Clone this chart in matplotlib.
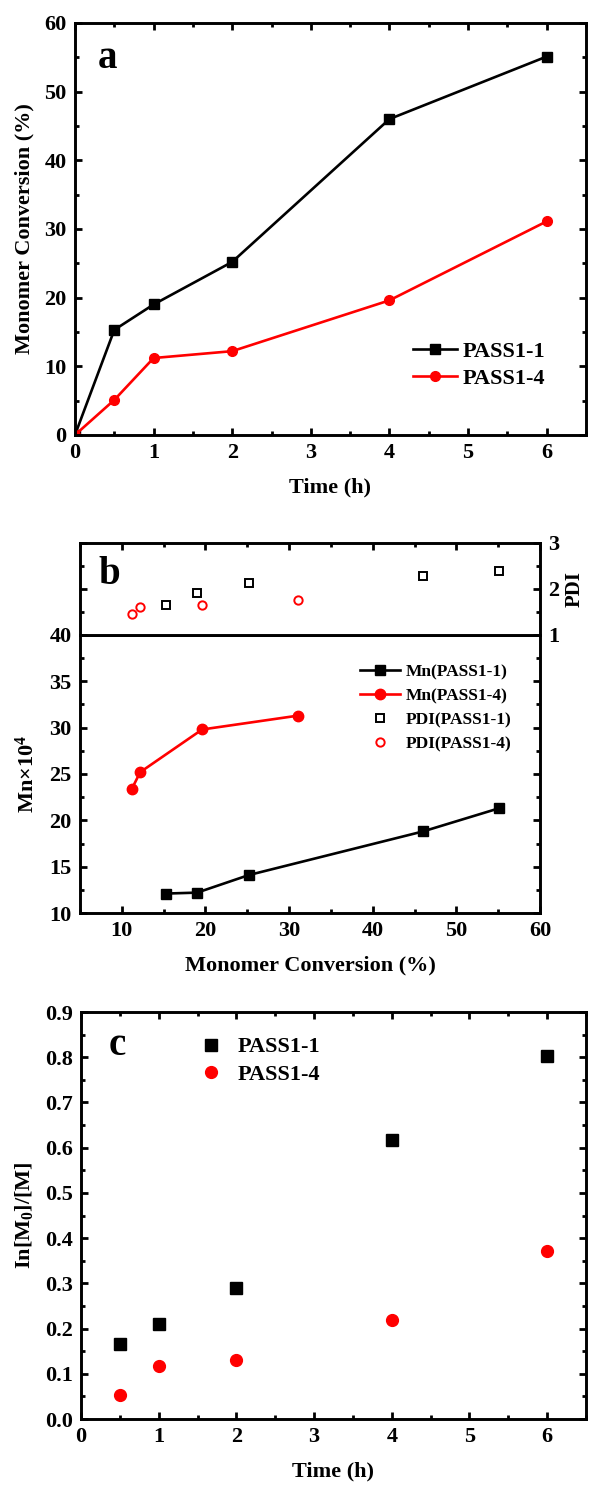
import matplotlib
matplotlib.use("Agg")
import matplotlib.pyplot as plt
from matplotlib.ticker import MultipleLocator, FormatStrFormatter
from matplotlib.lines import Line2D

plt.rcParams['font.family'] = ['Liberation Serif', 'DejaVu Serif']
plt.rcParams['font.weight'] = 'bold'
plt.rcParams['axes.labelweight'] = 'bold'
plt.rcParams['mathtext.fontset'] = 'custom'
plt.rcParams['mathtext.rm'] = 'Liberation Serif:bold'
plt.rcParams['mathtext.default'] = 'rm'
plt.rcParams['axes.linewidth'] = 2.1

# conversion vs time
time_h = [0, 0.5, 1, 2, 4, 6]
conv_p11 = [0, 15.3, 19.0, 25.2, 46.0, 55.1]
conv_p14 = [0, 5.1, 11.2, 12.2, 19.6, 31.1]

# Mn and PDI vs conversion
mn_conv_p11 = [15.3, 19.0, 25.2, 46.0, 55.1]
mn_p11 = [12.1, 12.2, 14.1, 18.8, 21.3]
pdi_p11 = [1.66, 1.92, 2.13, 2.28, 2.39]
mn_conv_p14 = [11.2, 12.2, 19.6, 31.1]
mn_p14 = [23.4, 25.2, 29.8, 31.3]
pdi_p14 = [1.46, 1.61, 1.66, 1.75]

# first order kinetics
kin_time = [0.5, 1, 2, 4, 6]
lnm_p11 = [0.165, 0.21, 0.29, 0.617, 0.802]
lnm_p14 = [0.053, 0.118, 0.13, 0.218, 0.372]

RED = '#ff0000'
FS = 16
LW = 1.9


def setTicks(ax, xmaj, ymaj):
    ax.xaxis.set_major_locator(MultipleLocator(xmaj))
    ax.xaxis.set_minor_locator(MultipleLocator(xmaj / 2.0))
    ax.yaxis.set_major_locator(MultipleLocator(ymaj))
    ax.yaxis.set_minor_locator(MultipleLocator(ymaj / 2.0))
    ax.tick_params(which='both', direction='in', top=True, right=True,
                   width=2.0, labelsize=FS, pad=6)
    ax.tick_params(which='major', length=5)
    ax.tick_params(which='minor', length=3)


fig = plt.figure(figsize=(5.9, 14.87), dpi=100)

# ---- a: conversion ----
ax1 = fig.add_axes([0.1271, 0.7075, 0.8661, 0.2771])
ax1.plot(time_h, conv_p11, '-s', color='black', lw=LW, ms=7, label='PASS1-1')
ax1.plot(time_h, conv_p14, '-o', color=RED, lw=LW, ms=7, label='PASS1-4')
ax1.set_xlim(0, 6.5)
ax1.set_ylim(0, 60)
setTicks(ax1, 1, 10)
ax1.set_xlabel('Time (h)', fontsize=FS, labelpad=10)
ax1.set_ylabel('Monomer Conversion (%)', fontsize=FS, labelpad=7)
ax1.text(0.063, 0.913, 'a', transform=ax1.transAxes, fontsize=28,
         ha='center', va='center')
ax1.legend(loc='upper left', bbox_to_anchor=(0.661, 0.228), frameon=False,
           fontsize=FS, handlelength=2.0, handletextpad=0.25,
           labelspacing=0.3, borderpad=0, borderaxespad=0)

# ---- b: Mn (lower) and PDI (upper) ----
ax2 = fig.add_axes([0.1356, 0.3860, 0.7797, 0.1870])
ax3 = fig.add_axes([0.1356, 0.5730, 0.7797, 0.0619], sharex=ax2)

ax2.plot(mn_conv_p11, mn_p11, '-s', color='black', lw=LW, ms=7)
ax2.plot(mn_conv_p14, mn_p14, '-o', color=RED, lw=LW, ms=7.5)
ax2.set_xlim(5, 60)
ax2.set_ylim(10, 40)
setTicks(ax2, 10, 5)
ax2.tick_params(which='both', top=False)
ax2.set_xlabel('Monomer Conversion (%)', fontsize=FS, labelpad=10)
ax2.set_ylabel(r'Mn$\times$10$^{4}$', fontsize=FS, labelpad=8)

ax3.plot(mn_conv_p11, pdi_p11, 's', mfc='none', mec='black', mew=1.4, ms=5.5)
ax3.plot(mn_conv_p14, pdi_p14, 'o', mfc='none', mec=RED, mew=1.4, ms=6)
ax3.set_ylim(1, 3)
setTicks(ax3, 10, 1)
ax3.tick_params(which='both', bottom=False, labelbottom=False,
                labelleft=False, labelright=True)
ax3.yaxis.set_label_position('right')
ax3.set_ylabel('PDI', fontsize=15, labelpad=4)
ax3.text(0.063, 0.652, 'b', transform=ax3.transAxes, fontsize=28,
         ha='center', va='center')

handles = [
    Line2D([], [], color='black', marker='s', lw=LW, ms=7),
    Line2D([], [], color=RED, marker='o', lw=LW, ms=7.5),
    Line2D([], [], ls='none', marker='s', mfc='none', mec='black', mew=1.4, ms=5.5),
    Line2D([], [], ls='none', marker='o', mfc='none', mec=RED, mew=1.4, ms=6),
]
labels = ['Mn(PASS1-1)', 'Mn(PASS1-4)', 'PDI(PASS1-1)', 'PDI(PASS1-4)']
ax2.legend(handles, labels, loc='upper left', bbox_to_anchor=(0.609, 0.896),
           frameon=False, fontsize=12.5, handlelength=2.3, handletextpad=0.3,
           labelspacing=0.45, borderpad=0, borderaxespad=0)

# ---- c: ln(M0/M) vs time ----
ax4 = fig.add_axes([0.1373, 0.0457, 0.8559, 0.2737])
ax4.plot(kin_time, lnm_p11, 's', color='black', ms=8, label='PASS1-1')
ax4.plot(kin_time, lnm_p14, 'o', color=RED, ms=8.5, label='PASS1-4')
ax4.set_xlim(0, 6.5)
ax4.set_ylim(0, 0.9)
setTicks(ax4, 1, 0.1)
ax4.yaxis.set_major_formatter(FormatStrFormatter('%.1f'))
ax4.set_xlabel('Time (h)', fontsize=FS, labelpad=10)
ax4.set_ylabel(r'In[M$_{0}$]/[M]', fontsize=FS, labelpad=7)
ax4.text(0.071, 0.919, 'c', transform=ax4.transAxes, fontsize=28,
         ha='center', va='center')
ax4.legend(loc='upper left', bbox_to_anchor=(0.236, 0.939), frameon=False,
           fontsize=FS, handlelength=1.0, handletextpad=0.7,
           labelspacing=0.3, borderpad=0, borderaxespad=0)

fig.savefig('out.png', dpi=100)
